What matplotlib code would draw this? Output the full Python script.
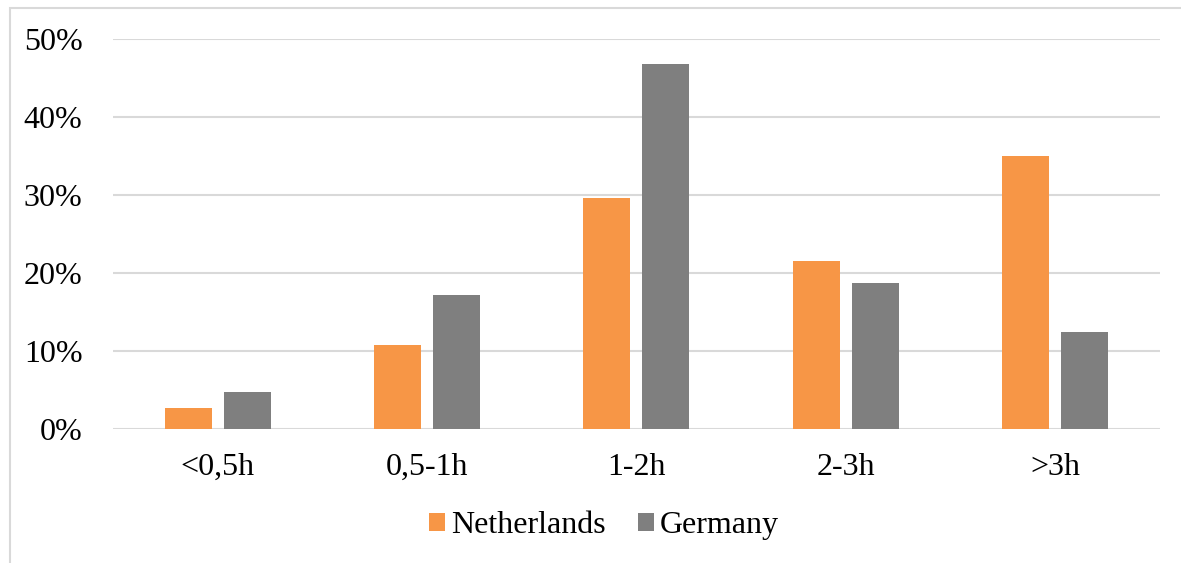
import numpy as np
import matplotlib.pyplot as plt
from matplotlib.patches import Rectangle

plt.rcParams['font.family'] = ['Liberation Serif', 'DejaVu Serif']

categories = ['<0,5h', '0,5-1h', '1-2h', '2-3h', '>3h']
netherlands = [2.7, 10.8, 29.6, 21.5, 35.0]
germany = [4.7, 17.2, 46.8, 18.7, 12.4]
yticks = [0, 10, 20, 30, 40, 50]

fig = plt.figure(figsize=(11.81, 5.63), dpi=100)
ax = fig.add_axes([0.0957, 0.238, 0.8863, 0.6923])

x = np.arange(len(categories))
w = 0.224
off = 0.141
ax.bar(x - off, netherlands, w, color='#F79646', label='Netherlands', zorder=3)
ax.bar(x + off, germany, w, color='#7F7F7F', label='Germany', zorder=3)

ax.set_xlim(-0.5, len(categories) - 0.5)
ax.set_ylim(0, 50)
ax.set_yticks(yticks)
ax.set_yticklabels([f'{t}%' for t in yticks])
ax.set_xticks(x)
ax.set_xticklabels(categories)
ax.tick_params(axis='both', length=0, labelsize=23, colors='black')
ax.tick_params(axis='y', pad=22)
ax.tick_params(axis='x', pad=17)
ax.yaxis.grid(True, color='#D9D9D9', linewidth=1.5, zorder=0)
for s in ax.spines.values():
    s.set_visible(False)

fig.legend(loc='center', bbox_to_anchor=(0.5114, 0.066), ncol=2, frameon=False,
           fontsize=23, handlelength=0.48, handleheight=0.48, handletextpad=0.19,
           columnspacing=1.03)

# light frame around the chart area
fig.patches.append(Rectangle((10 / 1181, -0.1), 1.2, 1 - 8 / 563 + 0.1,
                             transform=fig.transFigure, fill=False,
                             edgecolor='#D9D9D9', linewidth=1.5))

fig.savefig('out.png', dpi=100)
